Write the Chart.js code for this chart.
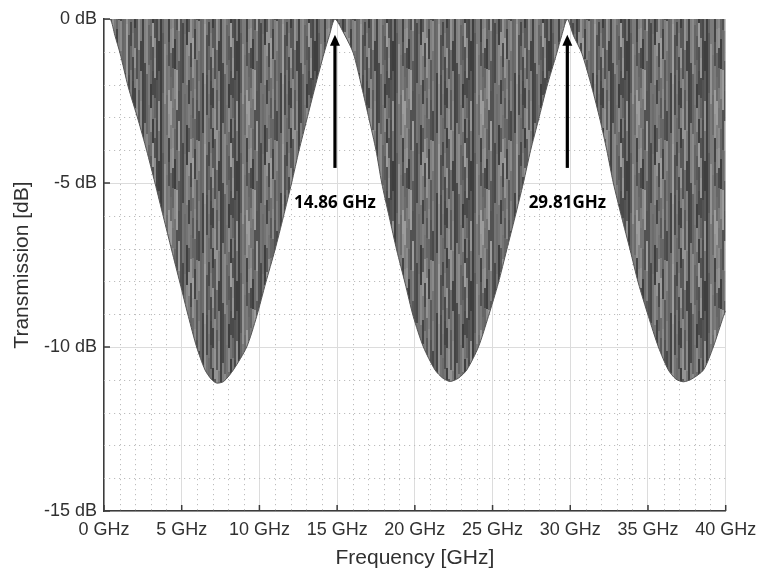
<!DOCTYPE html>
<html>
<head>
<meta charset="utf-8">
<script src="https://cdn.jsdelivr.net/npm/chart.js@4/dist/chart.umd.min.js"></script>
<style>
  html, body { margin: 0; padding: 0; background: #ffffff; }
  canvas { display: block; }
</style>
</head>
<body>
<canvas id="c" width="759" height="571"></canvas>
<script>
// Lower envelope of the transmission trace (the trace fills the band up to 0 dB)
const freqGHz = [
  0, 0.4, 0.7, 1.03, 1.56, 2.2, 2.74, 3.28, 3.82, 4.35, 4.89, 5.43, 5.96, 6.5, 6.9, 7.25, 7.7,
  8.32, 9.18, 9.82, 10.4, 11.0, 11.54, 12.07, 12.55, 13.04, 13.58, 14.16, 14.5, 14.86,
  15.5, 16.04, 16.58, 17.07, 17.5, 17.87, 18.35, 18.83, 19.37, 19.9, 20.55, 21.3, 21.8, 22.27, 22.8,
  23.34, 24.09, 24.73, 25.37, 25.91, 26.45, 26.98, 27.45, 27.95, 28.49, 29.13, 29.45, 29.81,
  30.2, 30.74, 31.38, 31.92, 32.35, 32.77, 33.3, 33.85, 34.38, 35.03, 35.67, 36.31, 36.8, 37.28, 37.8,
  38.57, 39.2, 39.85, 40
];
const envelopeDb = [
  0, 0, -0.5, -1.04, -2.07, -3.08, -4.0, -5.0, -6.03, -7.04, -8.05, -9.07, -10.0, -10.7, -10.98, -11.1, -11.05,
  -10.7, -10.0, -9.07, -8.05, -7.04, -6.03, -5.0, -4.0, -3.08, -2.07, -1.04, -0.5, 0,
  -0.5, -1.04, -2.07, -3.08, -4.0, -5.0, -6.03, -7.04, -8.05, -9.07, -10.0, -10.7, -10.95, -11.05, -10.95,
  -10.7, -10.0, -9.07, -8.05, -7.04, -6.03, -5.0, -4.0, -3.08, -2.07, -1.04, -0.5, 0,
  -0.5, -1.04, -2.07, -3.08, -4.0, -5.0, -6.03, -7.04, -8.05, -9.07, -10.0, -10.7, -10.98, -11.06, -10.98,
  -10.7, -10.0, -9.07, -8.9
];

// Axis ticks
const xTicksGHz = [0, 5, 10, 15, 20, 25, 30, 35, 40];
const yTicksDb = [0, -5, -10, -15];

// Marked transmission peaks
const peakFreqGHz = [14.86, 29.81];
const peakLabels = ['14.86 GHz', '29.81GHz'];

const canvas = document.getElementById('c');
const ctx = canvas.getContext('2d');

// Streaky grey texture for the densely oscillating trace
function traceTexture(context) {
  const tile = document.createElement('canvas');
  tile.width = 78; tile.height = 120;
  const g = tile.getContext('2d');
  const shades = ['#4a4a4a', '#8a8a8a', '#5a5a5a', '#9c9c9c', '#444444', '#747474',
                  '#666666', '#939393', '#525252', '#808080', '#3f3f3f', '#6c6c6c', '#7b7b7b'];
  const segLens = [40, 24, 60, 30, 20, 40, 120, 30, 24, 60];
  for (let col = 0; col < 39; col++) {
    const seg = segLens[(col * 3) % segLens.length];
    const shift = (col * 11) % seg;
    const n = tile.height / seg;
    for (let row = -1; row <= n; row++) {
      const k = ((row % n) + n) % n;
      const idx = (col * 5 + k * 4 + (col % 3) * k) % shades.length;
      g.fillStyle = shades[idx];
      g.fillRect(col * 2, row * seg + shift, 2, seg);
    }
  }
  return context.createPattern(tile, 'repeat');
}

const tickFont = { family: '"Liberation Sans", Arial, sans-serif', size: 18 };
const titleFont = { family: '"Liberation Sans", Arial, sans-serif', size: 21 };
const textColor = '#303030';
const axisColor = '#3c3c3c';

// Dotted minor grid (1 GHz, 1 dB) below the trace
const minorGrid = {
  id: 'minorGrid',
  beforeDatasetsDraw(chart) {
    const { ctx, chartArea: a, scales: { x, y } } = chart;
    ctx.save();
    ctx.strokeStyle = '#bdbdbd';
    ctx.lineWidth = 1;
    ctx.setLineDash([1.2, 3.8]);
    for (let f = 1; f < 40; f++) {
      if (f % 5 === 0) continue;
      const px = Math.round(x.getPixelForValue(f)) + 0.5;
      ctx.beginPath(); ctx.moveTo(px, a.top); ctx.lineTo(px, a.bottom); ctx.stroke();
    }
    for (let d = -14; d < 0; d++) {
      if (d % 5 === 0) continue;
      const py = Math.round(y.getPixelForValue(d)) + 0.5;
      ctx.beginPath(); ctx.moveTo(a.left, py); ctx.lineTo(a.right, py); ctx.stroke();
    }
    ctx.restore();
  }
};

// Inward tick marks plus the peak arrows and their labels
const overlay = {
  id: 'overlay',
  afterDatasetsDraw(chart) {
    const { ctx, chartArea: a, scales: { x, y } } = chart;
    ctx.save();
    ctx.strokeStyle = axisColor;
    ctx.lineWidth = 1.5;
    xTicksGHz.forEach(v => {
      const px = x.getPixelForValue(v);
      ctx.beginPath(); ctx.moveTo(px, a.bottom); ctx.lineTo(px, a.bottom - 6); ctx.stroke();
    });
    yTicksDb.forEach(v => {
      const py = y.getPixelForValue(v);
      ctx.beginPath(); ctx.moveTo(a.left, py); ctx.lineTo(a.left + 6, py); ctx.stroke();
    });

    peakFreqGHz.forEach((f, i) => {
      const px = x.getPixelForValue(f);
      const tip = y.getPixelForValue(-0.48);
      const tail = y.getPixelForValue(-4.54);
      ctx.fillStyle = '#000000';
      ctx.strokeStyle = '#000000';
      ctx.lineWidth = 3.2;
      ctx.beginPath(); ctx.moveTo(px, tail); ctx.lineTo(px, tip + 9); ctx.stroke();
      ctx.beginPath();
      ctx.moveTo(px, tip);
      ctx.lineTo(px - 5, tip + 11);
      ctx.lineTo(px + 5, tip + 11);
      ctx.closePath();
      ctx.fill();

      ctx.font = 'bold 17px "Open Sans", "Liberation Sans", sans-serif';
      ctx.textAlign = 'center';
      ctx.textBaseline = 'middle';
      ctx.fillText(peakLabels[i], px, y.getPixelForValue(-5.6));
    });
    ctx.restore();
  }
};

new Chart(ctx, {
  type: 'line',
  data: {
    datasets: [{
      data: freqGHz.map((f, i) => ({ x: f, y: envelopeDb[i] })),
      fill: 'end',
      backgroundColor: traceTexture(ctx),
      borderColor: '#555555',
      borderWidth: 1,
      pointRadius: 0,
      tension: 0.25
    }]
  },
  options: {
    responsive: false,
    animation: false,
    layout: { padding: { left: 0, right: 33.3, top: 19, bottom: 0 } },
    plugins: { legend: { display: false }, tooltip: { enabled: false } },
    scales: {
      x: {
        type: 'linear',
        min: 0, max: 40,
        afterBuildTicks: s => { s.ticks = xTicksGHz.map(v => ({ value: v })); },
        afterFit: s => { s.height = 60; s.paddingLeft = 0; s.paddingRight = 0; },
        ticks: {
          callback: v => v + ' GHz',
          font: tickFont, color: textColor, padding: 8,
          maxRotation: 0, autoSkip: false
        },
        grid: { color: '#dcdcdc', lineWidth: 1, drawTicks: false },
        border: { color: axisColor, width: 1.5 },
        title: {
          display: true, text: 'Frequency [GHz]',
          font: titleFont, color: textColor,
          padding: { top: 0, bottom: 0 }
        }
      },
      y: {
        min: -15, max: 0,
        afterBuildTicks: s => { s.ticks = yTicksDb.map(v => ({ value: v })); },
        afterFit: s => { s.width = 104; s.paddingTop = 0; s.paddingBottom = 0; },
        ticks: {
          callback: v => v + ' dB',
          font: tickFont, color: textColor, padding: 7
        },
        grid: { color: '#dcdcdc', lineWidth: 1, drawTicks: false },
        border: { color: axisColor, width: 1.5 },
        title: {
          display: true, text: 'Transmission [dB]',
          font: titleFont, color: textColor,
          padding: { top: 9.4, bottom: 0 }
        }
      }
    }
  },
  plugins: [minorGrid, overlay]
});
</script>
</body>
</html>
